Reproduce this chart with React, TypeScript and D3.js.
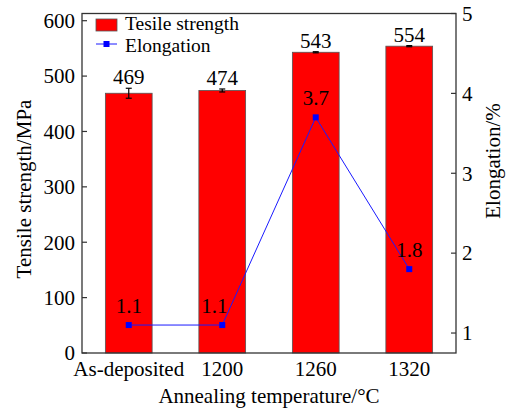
import React from "react";
import * as d3 from "d3";

const categories = ["As-deposited", "1200", "1260", "1320"];
const strength = [469, 474, 543, 554];
const strengthErr = [9, 2.7, 1, 1];
const elongation = [1.1, 1.1, 3.7, 1.8];
const leftTicks = [0, 100, 200, 300, 400, 500, 600];
const rightTicks = [1, 2, 3, 4, 5];

const W = 509;
const H = 412;
const M = { left: 82, right: 456, top: 13.5, bottom: 353 };
const FONT = '"Liberation Serif"';
const elongLabelDx = [0, -8, 0, 0];

export default function App() {
  const x = d3
    .scaleBand<string>()
    .domain(categories)
    .range([M.left, M.right])
    .paddingInner(0.5)
    .paddingOuter(0.25);
  const y = d3.scaleLinear().domain([0, 613]).range([M.bottom, M.top]);
  const y2 = d3.scaleLinear().domain([0.75, 5]).range([M.bottom, M.top]);
  const cx = (c: string) => (x(c) as number) + x.bandwidth() / 2;

  const line = d3
    .line<number>()
    .x((_, i) => cx(categories[i]))
    .y((d) => y2(d));

  const ts = { fontFamily: FONT, fontSize: "21px" };
  const lts = { fontFamily: FONT, fontSize: "19.5px" };

  return (
    <svg width={W} height={H} style={{ position: "absolute", left: 0, top: 0, background: "#fff" }}>
      {/* bars */}
      {categories.map((c, i) => (
        <rect
          key={c}
          x={x(c)}
          y={y(strength[i])}
          width={x.bandwidth()}
          height={M.bottom - y(strength[i])}
          fill="#ff0000"
          stroke="#555"
          strokeWidth={0.8}
        />
      ))}
      {/* error bars */}
      {categories.map((c, i) => {
        const xc = cx(c);
        const t = y(strength[i] + strengthErr[i]);
        const b = y(strength[i] - strengthErr[i]);
        return (
          <g key={"e" + c} stroke="#000" strokeWidth={1.2}>
            <line x1={xc} x2={xc} y1={t} y2={b} />
            <line x1={xc - 3} x2={xc + 3} y1={t} y2={t} />
            <line x1={xc - 3} x2={xc + 3} y1={b} y2={b} />
          </g>
        );
      })}
      {/* bar labels */}
      {categories.map((c, i) => (
        <text key={"l" + c} x={cx(c)} y={y(strength[i] + strengthErr[i]) - 4} textAnchor="middle" style={ts} fill="#000">
          {strength[i]}
        </text>
      ))}
      {/* elongation line */}
      <path d={line(elongation) || ""} fill="none" stroke="#1a1aff" strokeWidth={1} />
      {elongation.map((v, i) => (
        <rect key={"m" + i} x={cx(categories[i]) - 3} y={y2(v) - 3} width={6} height={6} fill="#0000ff" />
      ))}
      {elongation.map((v, i) => (
        <text
          key={"el" + i}
          x={cx(categories[i]) + elongLabelDx[i]}
          y={y2(v) - 12}
          textAnchor="middle"
          style={ts}
          fill="#000"
        >
          {v.toFixed(1)}
        </text>
      ))}
      {/* frame */}
      <rect
        x={M.left}
        y={M.top}
        width={M.right - M.left}
        height={M.bottom - M.top}
        fill="none"
        stroke="#333"
        strokeWidth={1.3}
      />
      {/* left axis */}
      {leftTicks.map((t) => (
        <g key={"lt" + t}>
          <line x1={M.left} x2={M.left + 5} y1={y(t)} y2={y(t)} stroke="#333" strokeWidth={1.2} />
          <text x={75} y={y(t)} dy="0.35em" textAnchor="end" style={ts} fill="#000">
            {t}
          </text>
        </g>
      ))}
      {/* right axis */}
      {rightTicks.map((t) => (
        <g key={"rt" + t}>
          <line x1={M.right - 5} x2={M.right} y1={y2(t)} y2={y2(t)} stroke="#333" strokeWidth={1.2} />
          <text x={462} y={y2(t)} dy="0.35em" textAnchor="start" style={ts} fill="#000">
            {t}
          </text>
        </g>
      ))}
      {/* x tick labels */}
      {categories.map((c) => (
        <text key={"xt" + c} x={cx(c)} y={375.5} textAnchor="middle" style={ts} fill="#000">
          {c}
        </text>
      ))}
      {/* axis titles */}
      <text x={(M.left + M.right) / 2} y={402.5} textAnchor="middle" style={ts} fill="#000">
        Annealing temperature/°C
      </text>
      <text transform={`translate(31,189) rotate(-90)`} textAnchor="middle" style={ts} fill="#000">
        Tensile strength/MPa
      </text>
      <text transform={`translate(500,161) rotate(-90)`} textAnchor="middle" style={ts} fill="#000">
        Elongation/%
      </text>
      {/* legend */}
      <rect x={96} y={19} width={21} height={12} fill="#ff0000" stroke="#555" strokeWidth={0.8} />
      <text x={125} y={30} style={lts} fill="#000">
        Tesile strength
      </text>
      <line x1={96} x2={117} y1={44} y2={44} stroke="#1a1aff" strokeWidth={1} />
      <rect x={103.5} y={41} width={6} height={6} fill="#0000ff" />
      <text x={125} y={52} style={lts} fill="#000">
        Elongation
      </text>
    </svg>
  );
}
